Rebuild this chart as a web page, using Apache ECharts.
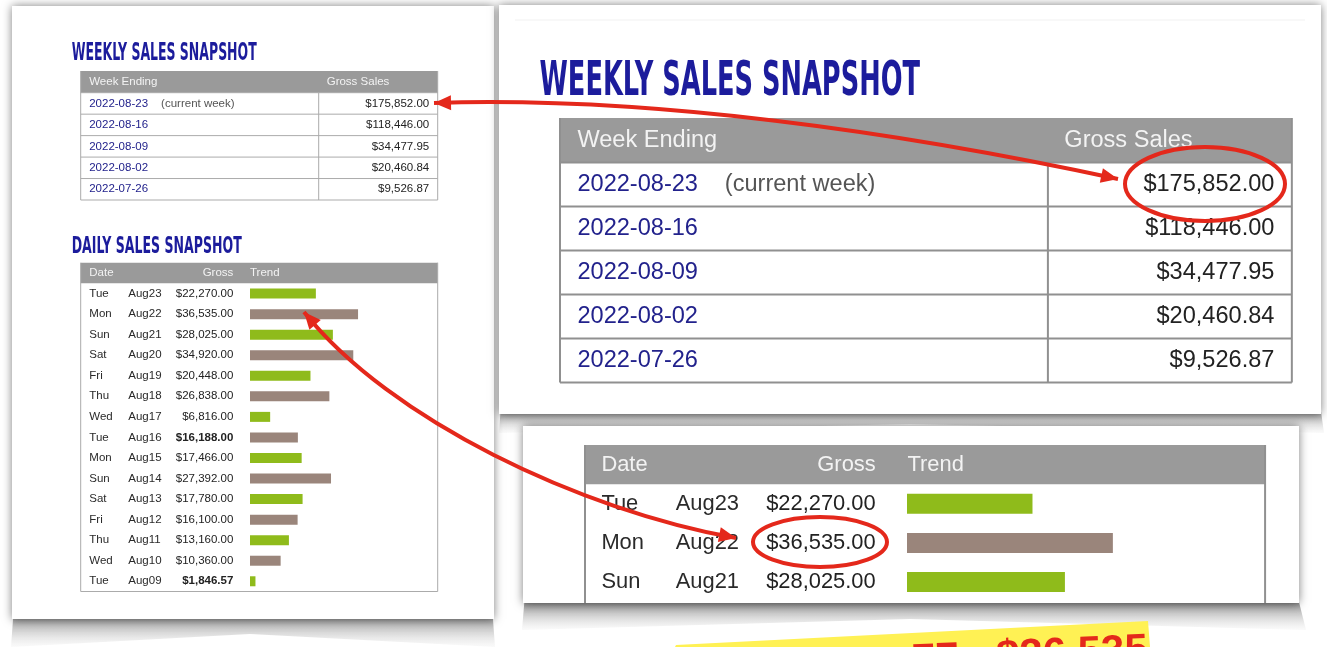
<!DOCTYPE html>
<html>
<head>
<meta charset="utf-8">
<title>Weekly Sales Snapshot</title>
<script src="https://cdn.jsdelivr.net/npm/echarts@6/dist/echarts.min.js"></script>
<style>
  html, body { margin: 0; padding: 0; background: #fff; }
  #chart { width: 1327px; height: 647px; }
</style>
</head>
<body>
<div id="chart"></div>
<script>
// weekly snapshot
const weekEnding = ["2022-08-23", "2022-08-16", "2022-08-09", "2022-08-02", "2022-07-26"];
const weekGross = [175852.00, 118446.00, 34477.95, 20460.84, 9526.87];

// daily snapshot (newest first)
const dayNames = ["Tue", "Mon", "Sun", "Sat", "Fri", "Thu", "Wed", "Tue", "Mon", "Sun", "Sat", "Fri", "Thu", "Wed", "Tue"];
const dayDates = ["Aug23", "Aug22", "Aug21", "Aug20", "Aug19", "Aug18", "Aug17", "Aug16", "Aug15", "Aug14", "Aug13", "Aug12", "Aug11", "Aug10", "Aug09"];
const dayGross = [22270, 36535, 28025, 34920, 20448, 26838, 6816, 16188, 17466, 27392, 17780, 16100, 13160, 10360, 1846.57];

const GREEN = "#8fbb1b", BROWN = "#9a857b", RED = "#e4281b", NAVY = "#1c1c9c";
const BLUE = "#22228c", HEAD = "#9a9a9a", HEADTXT = "#f3f3f3";
const FONT = '"Liberation Sans", Arial, Helvetica, sans-serif';
const money = (v) => "$" + v.toLocaleString("en-US", { minimumFractionDigits: 2, maximumFractionDigits: 2 });
const boldDates = ["Aug16", "Aug09"]; // shown bold in the source

const g = [];
function txt(x, y, text, size, o) {
  o = o || {};
  g.push({
    type: "text", x: x, y: y, z: 4, silent: true,
    style: {
      text: text, fontSize: size, fontFamily: FONT, fontWeight: o.weight || "normal",
      fill: o.fill || "#222", align: o.align || "left", verticalAlign: "middle",
    },
  });
}
function rect(x, y, w, h, fill, z, extra) {
  g.push({ type: "rect", z: z, silent: true, shape: { x: x, y: y, width: w, height: h }, style: Object.assign({ fill: fill }, extra || {}) });
}
function line(x1, y1, x2, y2, color, lw) {
  g.push({ type: "line", z: 3, silent: true, shape: { x1: x1, y1: y1, x2: x2, y2: y2 }, style: { stroke: color, lineWidth: lw } });
}
function poly(points, fill, z) {
  g.push({ type: "polygon", z: z, silent: true, shape: { points: points }, style: { fill: fill } });
}

// title, stretched to the measured width
const mctx = document.createElement("canvas").getContext("2d");
function title(text, x, yMid, width, capH) {
  const fs = capH / 0.72;
  const fam = '"Liberation Sans Narrow", "DejaVu Sans Condensed", sans-serif';
  mctx.font = "bold " + fs + "px " + fam;
  const sx = width / mctx.measureText(text).width;
  g.push({
    type: "text", x: x, y: yMid, scaleX: sx, z: 4, silent: true,
    style: { text: text, fontSize: fs, fontFamily: fam, fontWeight: "bold", fill: NAVY, align: "left", verticalAlign: "middle" },
  });
}

function weeklyTable(ox, oy, s) {
  const W = 357 * s, HH = 21.7 * s, RH = 21.46 * s, FS = 11.5 * s, PAD = 8.5 * s;
  const lw = s > 1 ? 2 : 1, lc = s > 1 ? "#909090" : "#ababab";
  const bottom = oy + HH + RH * weekEnding.length;
  rect(ox, oy, W, HH, HEAD, 2);
  txt(ox + PAD, oy + HH / 2, "Week Ending", FS, { fill: HEADTXT });
  txt(ox + 246 * s, oy + HH / 2, "Gross Sales", FS, { fill: HEADTXT });
  weekEnding.forEach((d, i) => {
    const cy = oy + HH + RH * (i + 0.5);
    txt(ox + PAD, cy, d, FS, { fill: BLUE });
    if (i === 0) txt(ox + 80.4 * s, cy, "(current week)", FS, { fill: "#555" });
    txt(ox + W - PAD, cy, money(weekGross[i]), FS, { align: "right" });
    line(ox, oy + HH + RH * (i + 1), ox + W, oy + HH + RH * (i + 1), lc, lw);
  });
  line(ox, oy + HH, ox + W, oy + HH, lc, lw);
  line(ox, oy, ox, bottom, lc, lw);
  line(ox + W, oy, ox + W, bottom, lc, lw);
  line(ox + 238 * s, oy + HH, ox + 238 * s, bottom, lc, lw);
}

function dailyTable(ox, oy, s, rows, bottom, closed) {
  const W = 357 * s, HH = 20.6 * s, RH = 20.55 * s, FS = 11.5 * s;
  const lw = s > 1 ? 2 : 1, lc = s > 1 ? "#909090" : "#ababab";
  rect(ox, oy, W, HH, HEAD, 2);
  txt(ox + 8.6 * s, oy + HH / 2, "Date", FS, { fill: HEADTXT });
  txt(ox + 152.6 * s, oy + HH / 2, "Gross", FS, { fill: HEADTXT, align: "right" });
  txt(ox + 169.3 * s, oy + HH / 2, "Trend", FS, { fill: HEADTXT });
  for (let i = 0; i < rows; i++) {
    const cy = oy + HH + RH * (i + 0.5);
    txt(ox + 8.6 * s, cy, dayNames[i], FS, { fill: "#2a2a2a" });
    txt(ox + 47.6 * s, cy, dayDates[i], FS, { fill: "#2a2a2a" });
    txt(ox + 152.6 * s, cy, money(dayGross[i]), FS, {
      fill: "#222", align: "right", weight: boldDates.includes(dayDates[i]) ? "bold" : "normal",
    });
  }
  line(ox, oy, ox, bottom, lc, lw);
  line(ox + W, oy, ox + W, bottom, lc, lw);
  if (closed) line(ox, bottom, ox + W, bottom, lc, lw);
}

// paper panels and their curled shadows
const shade = {
  type: "linear", x: 0, y: 0, x2: 0, y2: 1,
  colorStops: [{ offset: 0, color: "rgba(60,60,60,0.9)" }, { offset: 1, color: "rgba(230,230,230,0.2)" }],
};
poly([[14, 606], [492, 606], [495, 647], [250, 634], [11, 647]], shade, 0);
poly([[501, 404], [1320, 404], [1324, 433], [910, 424], [499, 433]], shade, 0);
poly([[525, 594], [1297, 594], [1306, 630], [910, 619], [522, 630]], shade, 0);
const paper = { shadowBlur: 9, shadowColor: "rgba(0,0,0,0.5)" };
rect(12, 6, 482, 613, "#fff", 1, paper);
rect(499, 5, 822, 409, "#fff", 1, paper);
rect(523, 426, 776, 177, "#fff", 1, paper);
line(515, 20, 1305, 20, "#f1f1f1", 1);

// left panel
title("WEEKLY SALES SNAPSHOT", 71.7, 53.7, 185, 17.3);
weeklyTable(80.7, 71, 1);
title("DAILY SALES SNAPSHOT", 71.7, 246.7, 170, 16.7);
dailyTable(80.7, 262.7, 1, dayDates.length, 591.5, true);

// right panels (enlarged views)
title("WEEKLY SALES SNAPSHOT", 539.5, 82.5, 380.5, 35);
weeklyTable(560, 118, 2.05);
dailyTable(585, 445, 1.905, 3, 603, false);

// annotations
function bez(p, t) {
  const u = 1 - t;
  return [
    u * u * u * p[0][0] + 3 * u * u * t * p[1][0] + 3 * u * t * t * p[2][0] + t * t * t * p[3][0],
    u * u * u * p[0][1] + 3 * u * u * t * p[1][1] + 3 * u * t * t * p[2][1] + t * t * t * p[3][1],
  ];
}
function head(tip, from) {
  let dx = tip[0] - from[0], dy = tip[1] - from[1];
  const n = Math.hypot(dx, dy); dx /= n; dy /= n;
  const L = 17, H = 7.5, bx = tip[0] - dx * L, by = tip[1] - dy * L;
  poly([tip, [bx - dy * H, by + dx * H], [bx + dy * H, by - dx * H]], RED, 10);
}
function arrow(p) {
  g.push({
    type: "bezierCurve", z: 10, silent: true,
    shape: { x1: p[0][0], y1: p[0][1], cpx1: p[1][0], cpy1: p[1][1], cpx2: p[2][0], cpy2: p[2][1], x2: p[3][0], y2: p[3][1] },
    style: { stroke: RED, lineWidth: 4, fill: null },
  });
  head(p[0], bez(p, 0.06));
  head(p[3], bez(p, 0.94));
}
arrow([[434, 103], [650, 96], [900, 132], [1118, 179]]);
arrow([[304, 312], [390, 420], [580, 510], [736, 538]]);
g.push({ type: "ellipse", z: 10, silent: true, shape: { cx: 1205, cy: 184, rx: 80, ry: 37 }, style: { stroke: RED, lineWidth: 4, fill: null } });
g.push({ type: "ellipse", z: 10, silent: true, shape: { cx: 820, cy: 542, rx: 67, ry: 25 }, style: { stroke: RED, lineWidth: 4, fill: null } });

// yellow caption strip, cut off by the bottom edge
poly([[675, 647], [676, 645], [1148, 621], [1150, 647]], "#fff154", 6);
g.push({
  type: "text", x: 1147, y: 630, rotation: 0.045, z: 7, silent: true,
  style: { text: "77 - $36,535", fontSize: 42, fontFamily: FONT, fontWeight: "bold", fill: RED, align: "right", verticalAlign: "top" },
});

const chart = echarts.init(document.getElementById("chart"));
const barColor = (p) => (p.dataIndex % 2 ? BROWN : GREEN);
chart.setOption({
  animation: false,
  grid: [
    { left: 250, top: 283.3, width: 118.3, height: 308.25 },
    { left: 907, top: 484.2, width: 225.4, height: 117.5 },
  ],
  xAxis: [
    { gridIndex: 0, type: "value", min: 0, max: 40000, show: false },
    { gridIndex: 1, type: "value", min: 0, max: 40000, show: false },
  ],
  yAxis: [
    { gridIndex: 0, type: "category", inverse: true, data: dayDates, show: false },
    { gridIndex: 1, type: "category", inverse: true, data: dayDates.slice(0, 3), show: false },
  ],
  series: [
    { type: "bar", xAxisIndex: 0, yAxisIndex: 0, z: 5, barWidth: 10, silent: true, data: dayGross, itemStyle: { color: barColor } },
    { type: "bar", xAxisIndex: 1, yAxisIndex: 1, z: 5, barWidth: 20, silent: true, data: dayGross.slice(0, 3), itemStyle: { color: barColor } },
  ],
  graphic: { elements: g },
});
</script>
</body>
</html>
